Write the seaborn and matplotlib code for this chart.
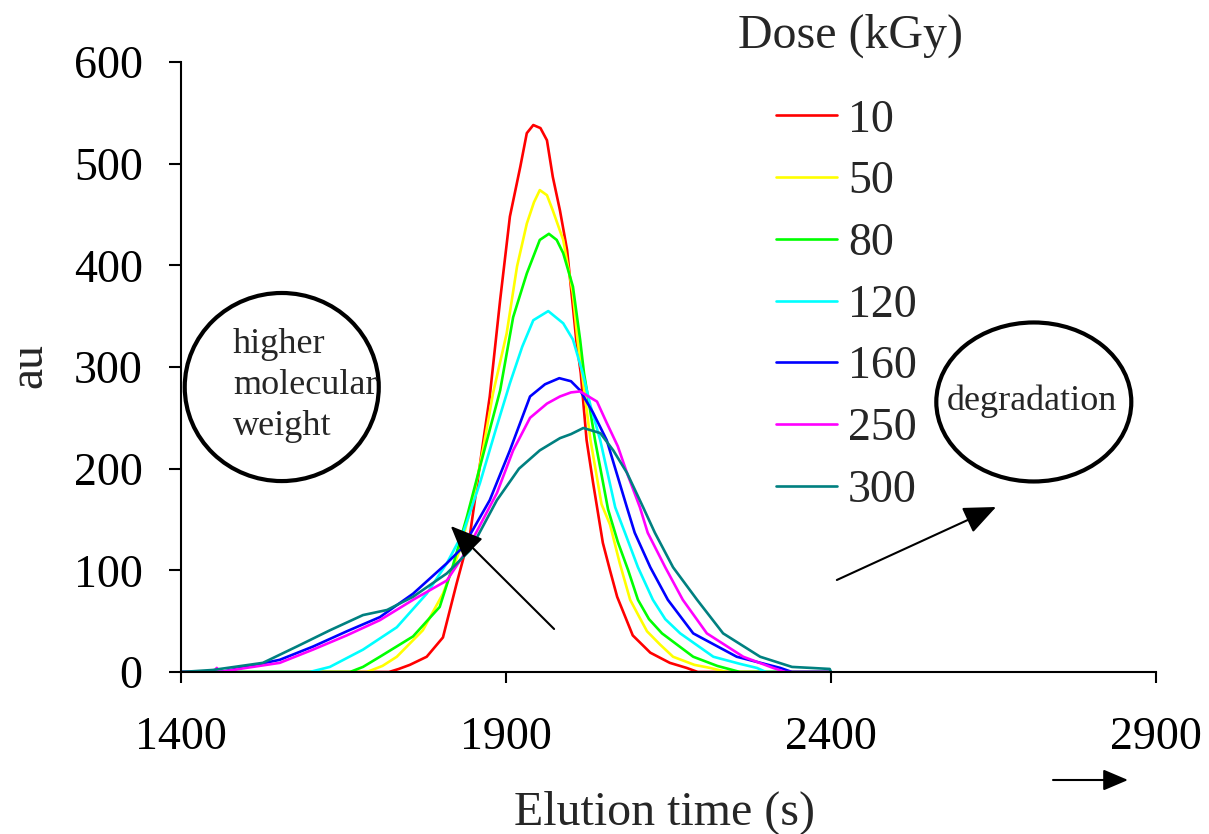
import matplotlib
matplotlib.use("Agg")
import matplotlib.pyplot as plt
from matplotlib.patches import Ellipse, FancyArrowPatch
import seaborn as sns
import pandas as pd

# ---- data ----
doses = ["10", "50", "80", "120", "160", "250", "300"]
colors = ["#FF0000", "#FFFF00", "#00FF00", "#00FFFF", "#0000FF", "#FF00FF", "#008080"]

x_10 = [1400, 1720, 1735, 1752, 1778, 1803, 1824, 1845, 1863, 1875, 1891, 1906, 1922, 1932, 1942,
        1953, 1963, 1972, 1983, 1994, 2003, 2008, 2015, 2024, 2034, 2049, 2060, 2071, 2095, 2122,
        2152, 2178, 2195, 2400]
y_10 = [0, 0, 3, 7, 15, 34, 87, 137, 218, 271, 366, 448, 497, 530, 538,
        535, 523, 487, 454, 415, 359, 327, 294, 228, 186, 127, 100, 74, 36, 19,
        9, 4, 0, 0]

x_50 = [1400, 1686, 1710, 1732, 1772, 1803, 1829, 1849, 1865, 1880, 1901, 1917, 1932, 1943, 1952,
        1963, 1972, 1988, 2003, 2010, 2017, 2030, 2047, 2060, 2075, 2091, 2106, 2117, 2137, 2157,
        2190, 2214, 2240, 2400]
y_50 = [0, 0, 6, 15, 41, 77, 120, 169, 220, 274, 333, 399, 441, 462, 474,
        469, 454, 425, 372, 327, 294, 228, 165, 145, 107, 71, 53, 40, 27, 15,
        7, 4, 0, 0]

x_80 = [1400, 1660, 1680, 1706, 1757, 1798, 1818, 1840, 1860, 1891, 1911, 1932, 1952, 1966, 1978,
        1988, 2003, 2014, 2020, 2037, 2057, 2072, 2088, 2103, 2120, 2140, 2188, 2225, 2260, 2400]
y_80 = [0, 0, 5, 15, 35, 64, 104, 153, 202, 277, 349, 392, 425, 431, 425,
        412, 379, 327, 294, 228, 160, 128, 100, 71, 52, 38, 15, 6, 0, 0]

x_120 = [1400, 1598, 1629, 1680, 1732, 1778, 1809, 1834, 1860, 1885, 1906, 1925, 1942, 1965, 1988,
         2003, 2018, 2030, 2045, 2068, 2083, 2103, 2126, 2145, 2168, 2219, 2260, 2286, 2300, 2400]
y_120 = [0, 0, 5, 22, 44, 77, 107, 137, 186, 240, 284, 320, 346, 355, 343,
         327, 294, 262, 228, 162, 137, 103, 71, 52, 38, 15, 8, 4, 0, 0]

x_160 = [1400, 1462, 1500, 1552, 1603, 1655, 1706, 1757, 1809, 1834, 1875, 1906, 1937, 1960, 1982,
         2000, 2014, 2034, 2055, 2086, 2098, 2122, 2149, 2188, 2255, 2322, 2340, 2400]
y_160 = [0, 0, 5, 12, 25, 40, 54, 77, 107, 123, 169, 218, 271, 283, 289,
         286, 277, 255, 228, 162, 137, 103, 71, 38, 15, 4, 0, 0]

x_250 = [1400, 1450, 1455, 1460, 1500, 1552, 1603, 1655, 1706, 1757, 1809, 1840, 1886, 1911, 1937,
         1963, 1983, 2000, 2014, 2040, 2055, 2072, 2086, 2106, 2118, 2145, 2172, 2209, 2265, 2311,
         2330, 2400]
y_250 = [0, 0, 4, 0, 4, 9, 22, 36, 51, 71, 90, 120, 176, 218, 250,
         264, 271, 275, 276, 266, 245, 222, 196, 162, 137, 103, 71, 38, 15, 4,
         0, 0]

x_300 = [1400, 1449, 1526, 1578, 1629, 1680, 1717, 1757, 1809, 1845, 1886, 1920, 1952, 1983, 2000,
         2019, 2045, 2065, 2086, 2111, 2129, 2157, 2194, 2234, 2291, 2340, 2370, 2398, 2400]
y_300 = [0, 2, 9, 25, 41, 56, 61, 74, 97, 120, 169, 200, 218, 230, 234,
         240, 235, 218, 196, 162, 137, 103, 71, 38, 15, 5, 4, 3, 0]

series_x = [x_10, x_50, x_80, x_120, x_160, x_250, x_300]
series_y = [y_10, y_50, y_80, y_120, y_160, y_250, y_300]

x_ticks = [1400, 1900, 2400, 2900]
y_ticks = [0, 100, 200, 300, 400, 500, 600]

# ---- build long-form table ----
frames = []
for d, xs, ys in zip(doses, series_x, series_y):
    frames.append(pd.DataFrame({"time": xs, "au": ys, "Dose": d}))
df = pd.concat(frames, ignore_index=True)

sns.set_style("ticks")
plt.rcParams["font.family"] = ["Liberation Serif", "DejaVu Serif"]

fig = plt.figure(figsize=(12.09, 8.34), dpi=100)
ax = fig.add_axes([181 / 1209, 1 - 672 / 834, (1156 - 181) / 1209, (672 - 62) / 834])

sns.lineplot(data=df, x="time", y="au", hue="Dose", hue_order=doses,
             palette=dict(zip(doses, colors)), estimator=None, sort=False,
             linewidth=1.9, ax=ax, legend=True)

ax.set_xlim(1400, 2900)
ax.set_ylim(0, 600)
ax.set_xticks(x_ticks)
ax.set_yticks(y_ticks)
ax.margins(0)
sns.despine(ax=ax)
for s in ["left", "bottom"]:
    ax.spines[s].set_linewidth(1.5)
    ax.spines[s].set_color("black")
ax.tick_params(axis="y", direction="out", length=8.6, width=1.5, pad=19, labelsize=33, colors="black")
ax.tick_params(axis="x", direction="out", length=8, width=1.5, pad=24, labelsize=33, colors="black")

ax.set_xlabel("Elution time (s)", fontsize=34.5)
ax.set_ylabel("au", fontsize=34.5)
ax.xaxis.set_label_coords(0.4964, -0.195)
ax.yaxis.set_label_coords(-0.133, 0.503)

# legend
handles, labels = ax.get_legend_handles_labels()
ax.legend(handles, labels, loc="upper left", bbox_to_anchor=(776 / 1209, 1 - 99 / 834),
          bbox_transform=fig.transFigure, frameon=False, fontsize=33,
          handlelength=1.33, handletextpad=0.24, labelspacing=0.42,
          borderpad=0, borderaxespad=0)
fig.text(850 / 1209, 1 - 36 / 834, "Dose (kGy)", fontsize=34.5, ha="center", va="center")

# annotations: ellipses with text
ax.add_patch(Ellipse((1555, 280.3), 298.5, 185, fill=False, lw=3, ec="black", clip_on=False))
ax.add_patch(Ellipse((2712, 265.6), 300, 156.4, fill=False, lw=3, ec="black", clip_on=False))
ax.text(1480, 282, "higher\nmolecular\nweight", fontsize=26, ha="left", va="center",
        linespacing=1.33, multialignment="left")
ax.text(2709, 266, "degradation", fontsize=26, ha="center", va="center")

arrow_kw = dict(arrowstyle="-|>,head_length=0.4,head_width=0.17", color="black", lw=1.5,
                mutation_scale=50, shrinkA=0, shrinkB=0)
ax.annotate("", xy=(1815, 143.6), xytext=(1974, 42.3), arrowprops=arrow_kw, annotation_clip=False)
ax.annotate("", xy=(2654, 162.3), xytext=(2409, 90.5), arrowprops=arrow_kw, annotation_clip=False)
arrow_kw2 = dict(arrow_kw, mutation_scale=38)
fig.add_artist(FancyArrowPatch(
    (1053 / 1209, 1 - 780 / 834), (1128 / 1209, 1 - 780 / 834),
    transform=fig.transFigure, **arrow_kw2))

fig.savefig("out.png", dpi=100)
